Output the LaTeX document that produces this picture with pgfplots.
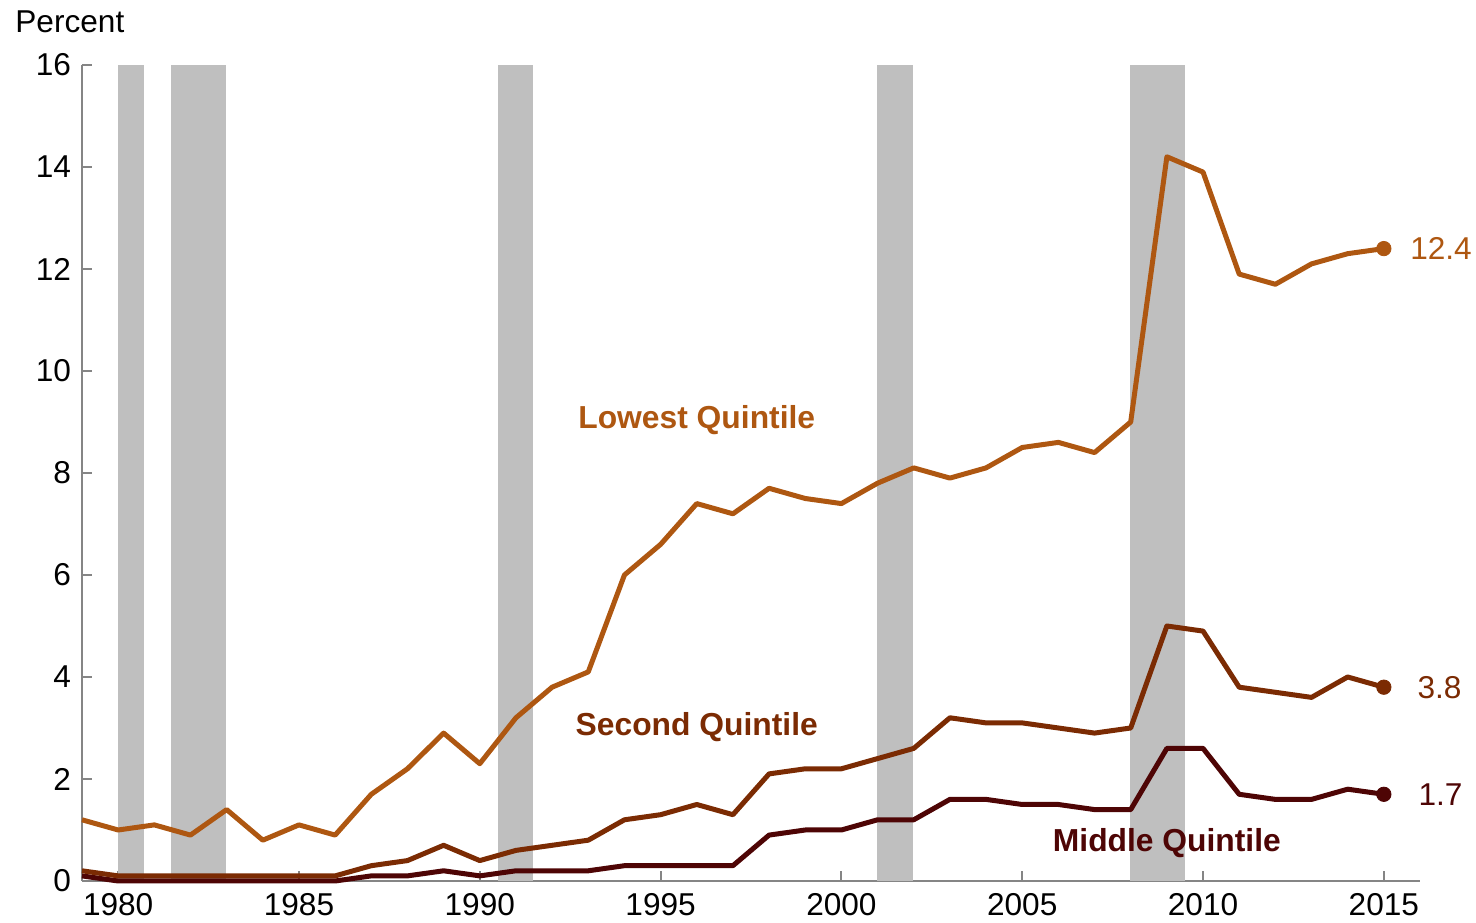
\documentclass[border=0pt]{standalone}
\usepackage{pgfplots}
\pgfplotsset{compat=1.18}
\usepackage{fontspec}
\setmainfont{Liberation Sans}
\definecolor{lowc}{HTML}{AE5711}
\definecolor{secc}{HTML}{7B2B03}
\definecolor{midc}{HTML}{4E0505}
\definecolor{recc}{HTML}{BFBFBF}
\definecolor{axc}{HTML}{858585}
\begin{document}
\begin{tikzpicture}
\begin{axis}[
  scale only axis, width=669pt, height=408pt,
  xmin=1979, xmax=2016, ymin=0, ymax=16,
  axis x line*=bottom, axis y line*=left,
  axis line style={axc, line width=1pt},
  every tick/.style={axc, line width=1pt},
  tick align=inside, major tick length=5pt,
  xtick={1980,1985,...,2015}, ytick={0,2,...,16},
  x tick label style={/pgf/number format/1000 sep={}, inner sep=0pt, anchor=north, yshift=-6pt},
  /pgf/number format/assume math mode=true,
  tick label style={font=\fontsize{15.8}{18}\selectfont, text=black},
  yticklabel style={xshift=-2pt},
  clip=false,
]
% recession bars
\addplot[fill=recc, draw=none] coordinates {(1980,0)(1980,16)(1980.72,16)(1980.72,0)} -- cycle;
\addplot[fill=recc, draw=none] coordinates {(1981.47,0)(1981.47,16)(1982.99,16)(1982.99,0)} -- cycle;
\addplot[fill=recc, draw=none] coordinates {(1990.5,0)(1990.5,16)(1991.47,16)(1991.47,0)} -- cycle;
\addplot[fill=recc, draw=none] coordinates {(2000.98,0)(2000.98,16)(2001.98,16)(2001.98,0)} -- cycle;
\addplot[fill=recc, draw=none] coordinates {(2007.98,0)(2007.98,16)(2009.5,16)(2009.5,0)} -- cycle;
% middle quintile
\addplot[midc, line width=2.5pt, line join=round] coordinates {
(1979,0.1)(1980,0.0)(1981,0.0)(1982,0.0)(1983,0.0)(1984,0.0)(1985,0.0)(1986,0.0)
(1987,0.1)(1988,0.1)(1989,0.2)(1990,0.1)(1991,0.2)(1992,0.2)(1993,0.2)(1994,0.3)
(1995,0.3)(1996,0.3)(1997,0.3)(1998,0.9)(1999,1.0)(2000,1.0)(2001,1.2)(2002,1.2)
(2003,1.6)(2004,1.6)(2005,1.5)(2006,1.5)(2007,1.4)(2008,1.4)(2009,2.6)(2010,2.6)
(2011,1.7)(2012,1.6)(2013,1.6)(2014,1.8)(2015,1.7)};
% second quintile
\addplot[secc, line width=2.5pt, line join=round] coordinates {
(1979,0.2)(1980,0.1)(1981,0.1)(1982,0.1)(1983,0.1)(1984,0.1)(1985,0.1)(1986,0.1)
(1987,0.3)(1988,0.4)(1989,0.7)(1990,0.4)(1991,0.6)(1992,0.7)(1993,0.8)(1994,1.2)
(1995,1.3)(1996,1.5)(1997,1.3)(1998,2.1)(1999,2.2)(2000,2.2)(2001,2.4)(2002,2.6)
(2003,3.2)(2004,3.1)(2005,3.1)(2006,3.0)(2007,2.9)(2008,3.0)(2009,5.0)(2010,4.9)
(2011,3.8)(2012,3.7)(2013,3.6)(2014,4.0)(2015,3.8)};
% lowest quintile
\addplot[lowc, line width=2.5pt, line join=round] coordinates {
(1979,1.2)(1980,1.0)(1981,1.1)(1982,0.9)(1983,1.4)(1984,0.8)(1985,1.1)(1986,0.9)
(1987,1.7)(1988,2.2)(1989,2.9)(1990,2.3)(1991,3.2)(1992,3.8)(1993,4.1)(1994,6.0)
(1995,6.6)(1996,7.4)(1997,7.2)(1998,7.7)(1999,7.5)(2000,7.4)(2001,7.8)(2002,8.1)
(2003,7.9)(2004,8.1)(2005,8.5)(2006,8.6)(2007,8.4)(2008,9.0)(2009,14.2)(2010,13.9)
(2011,11.9)(2012,11.7)(2013,12.1)(2014,12.3)(2015,12.4)};
% end markers
\addplot[only marks, mark=*, mark size=3.6pt, lowc] coordinates {(2015,12.4)};
\addplot[only marks, mark=*, mark size=3.6pt, secc] coordinates {(2015,3.8)};
\addplot[only marks, mark=*, mark size=3.6pt, midc] coordinates {(2015,1.7)};
\node[lowc, anchor=west, inner sep=0pt, font=\fontsize{15.8}{18}\selectfont] at (axis cs:2015.72,12.4) {12.4};
\node[secc, anchor=west, inner sep=0pt, font=\fontsize{15.8}{18}\selectfont] at (axis cs:2015.92,3.8) {3.8};
\node[midc, anchor=west, inner sep=0pt, font=\fontsize{15.8}{18}\selectfont] at (axis cs:2015.95,1.7) {1.7};
% series labels
\node[lowc, font=\fontsize{15.9}{18}\selectfont\bfseries] at (axis cs:1996,9.04) {Lowest Quintile};
\node[secc, font=\fontsize{15.9}{18}\selectfont\bfseries] at (axis cs:1996,3.02) {Second Quintile};
\node[midc, font=\fontsize{15.9}{18}\selectfont\bfseries] at (axis cs:2009,0.75) {Middle Quintile};
% axis title
\node[anchor=west, inner sep=0pt, font=\fontsize{15.8}{18}\selectfont] at ([xshift=-33.5pt,yshift=21.5pt]rel axis cs:0,1) {Percent};
\end{axis}
\path ([xshift=-41pt,yshift=-21pt]current axis.south west) rectangle ([xshift=28pt,yshift=32.5pt]current axis.north east);
\end{tikzpicture}
\end{document}
